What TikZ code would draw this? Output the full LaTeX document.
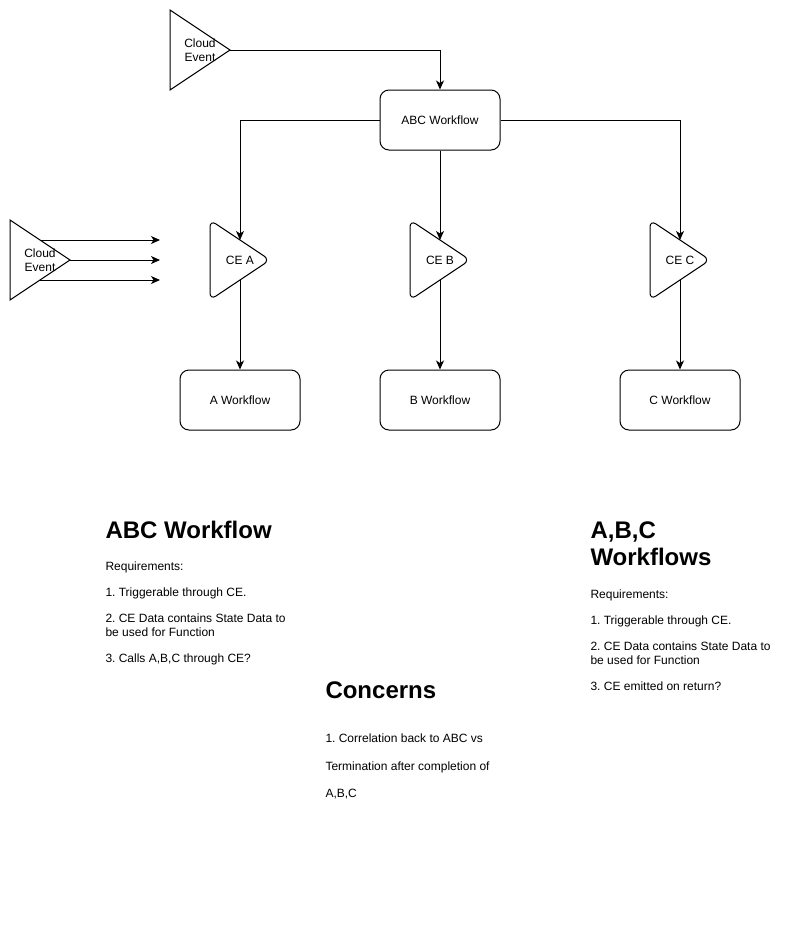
\documentclass[tikz,border=0pt]{standalone}
\usepackage{fontspec}
\setmainfont{Liberation Sans}
\usetikzlibrary{arrows.meta}
\frenchspacing
\begin{document}
\begin{tikzpicture}[x=1pt,y=-1pt,line width=1pt,
  arr/.style={-{Stealth[length=9pt,width=8pt,inset=2.5pt]}},
  wbox/.style={draw,rounded corners=9pt,minimum width=120pt,minimum height=60pt,inner sep=0pt,font=\fontsize{12}{14.4}\selectfont},
  lbl/.style={inner sep=0pt,align=center,font=\fontsize{12}{14.4}\selectfont},
  tri/.style={draw,line join=miter},
  rtri/.style={draw,rounded corners=7pt},
  head/.style={anchor=base west,inner sep=0pt,font=\bfseries\fontsize{24}{28}\selectfont},
  body/.style={anchor=base west,inner sep=0pt,font=\fontsize{12}{14.4}\selectfont}]
\fill[white] (0,0) rectangle (786,951);
\useasboundingbox (0,0) rectangle (786,951);

% top cloud event
\draw[tri] (170,10) -- (170,90) -- (230,50) -- cycle;
\coordinate (cetop) at (230,50);
\node[lbl] (cetoplbl) at (200,50) {Cloud\\Event};

% left cloud event
\draw[tri] (10,220) -- (10,300) -- (70,260) -- cycle;
\coordinate (celeftA) at (40,240);
\coordinate (celeftB) at (70,260);
\coordinate (celeftC) at (40,280);
\coordinate (freeA) at (160,240);
\coordinate (freeB) at (160,260);
\coordinate (freeC) at (160,280);
\node[lbl] (celeftlbl) at (40,260) {Cloud\\Event};

% workflows
\node[wbox] (abc) at (440,120) {ABC Workflow};
\node[wbox] (aw) at (240,400) {A Workflow};
\node[wbox] (bw) at (440,400) {B Workflow};
\node[wbox] (cw) at (680,400) {C Workflow};

% CE triangles
\draw[rtri] (210,220) -- (210,300) -- (270,260) -- cycle;
\draw[rtri] (410,220) -- (410,300) -- (470,260) -- cycle;
\draw[rtri] (650,220) -- (650,300) -- (710,260) -- cycle;
\node[lbl] (cea) at (240,260) {CE A};
\node[lbl] (ceb) at (440,260) {CE B};
\node[lbl] (cec) at (680,260) {CE C};
\coordinate (ceaIn) at (240,240);
\coordinate (cebIn) at (440,240);
\coordinate (cecIn) at (680,240);
\coordinate (ceaOut) at (240,280);
\coordinate (cebOut) at (440,280);
\coordinate (cecOut) at (680,280);

% connectors
\draw[arr] (cetop) -| (abc.north);
\draw[arr] (abc.west) -| (ceaIn);
\draw[arr] (abc.south) -- (cebIn);
\draw[arr] (abc.east) -| (cecIn);
\draw[arr] (ceaOut) -- (aw.north);
\draw[arr] (cebOut) -- (bw.north);
\draw[arr] (cecOut) -- (cw.north);
\draw[arr] (celeftA) -- (freeA);
\draw[arr] (celeftB) -- (freeB);
\draw[arr] (celeftC) -- (freeC);

% ABC Workflow text
\node[head] (h1) at (105,538) {ABC Workflow};
\node[body] (l1) at (105,570) {Requirements:};
\node[body] (l2) at (105,596) {1. Triggerable through CE.};
\node[body] (l3) at (105,622) {2. CE Data contains State Data to};
\node[body] (l4) at (105,636.4) {be used for Function};
\node[body] (l5) at (105,662) {3. Calls A,B,C through CE?};

% Concerns
\node[head] (h2) at (325,698) {Concerns};
\node[body] (c1) at (325,742) {1. Correlation back to ABC vs};
\node[body] (c2) at (325,770) {Termination after completion of};
\node[body] (c3) at (325,797) {A,B,C};

% A,B,C Workflows
\node[head] (h3a) at (590,538) {A,B,C};
\node[head] (h3b) at (590,565) {Workflows};
\node[body] (r1) at (590,598) {Requirements:};
\node[body] (r2) at (590,624) {1. Triggerable through CE.};
\node[body] (r3) at (590,650) {2. CE Data contains State Data to};
\node[body] (r4) at (590,664.4) {be used for Function};
\node[body] (r5) at (590,690) {3. CE emitted on return?};
\end{tikzpicture}
\end{document}
